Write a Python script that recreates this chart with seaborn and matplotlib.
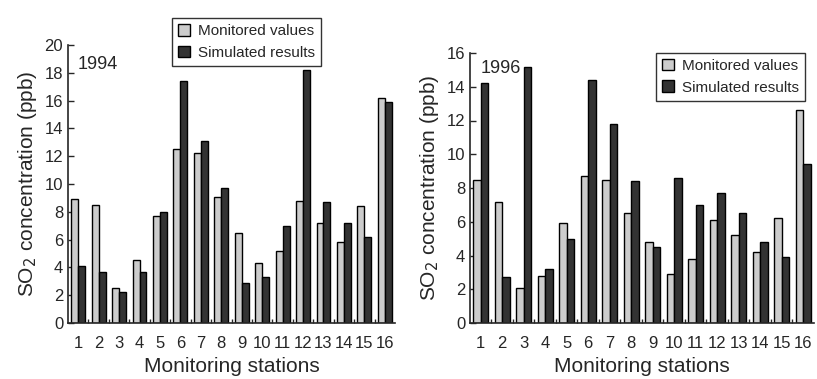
import numpy as np
import pandas as pd
import seaborn as sns
from matplotlib import pyplot as plt
from matplotlib.ticker import FixedLocator

stations = [str(i) for i in range(1, 17)]
monitored_1994 = [8.9, 8.5, 2.5, 4.5, 7.7, 12.5, 12.2, 9.1, 6.5, 4.3, 5.2, 8.8, 7.2, 5.8, 8.4, 16.2]
simulated_1994 = [4.1, 3.7, 2.2, 3.7, 8.0, 17.4, 13.1, 9.7, 2.9, 3.3, 7.0, 18.2, 8.7, 7.2, 6.2, 15.9]
monitored_1996 = [8.5, 7.2, 2.1, 2.8, 5.9, 8.7, 8.5, 6.5, 4.8, 2.9, 3.8, 6.1, 5.2, 4.2, 6.2, 12.6]
simulated_1996 = [14.2, 2.7, 15.2, 3.2, 5.0, 14.4, 11.8, 8.4, 4.5, 8.6, 7.0, 7.7, 6.5, 4.8, 3.9, 9.4]
series_names = ["Monitored values", "Simulated results"]
colors = {"Monitored values": "#cccccc", "Simulated results": "#333333"}

sns.set_style("ticks")
plt.rcParams["font.family"] = ["Liberation Sans", "DejaVu Sans"]


def to_frame(monitored, simulated):
    return pd.DataFrame({
        "station": stations * 2,
        "value": monitored + simulated,
        "series": [series_names[0]] * 16 + [series_names[1]] * 16,
    })


fig = plt.figure(figsize=(8.17, 3.79), dpi=100)
ax1 = fig.add_axes([68 / 817, 1 - 323 / 379, 327 / 817, 278 / 379])
ax2 = fig.add_axes([470 / 817, 1 - 323 / 379, 344 / 817, 270 / 379])

panels = [
    (ax1, to_frame(monitored_1994, simulated_1994), "1994", 20, 0.96),
    (ax2, to_frame(monitored_1996, simulated_1996), "1996", 16, 0.975),
]
for ax, df, year, ymax, ty in panels:
    sns.barplot(
        data=df, x="station", y="value", hue="series", palette=colors,
        edgecolor="black", linewidth=1, width=0.68, gap=0, ax=ax,
    )
    ax.set_ylim(0, ymax)
    ax.set_xlim(-0.5, 15.5)
    ax.set_yticks(range(0, ymax + 1, 2))
    ax.tick_params(axis="y", direction="in", length=4, labelsize=12, width=1)
    ax.tick_params(axis="x", which="major", length=0, labelsize=12, pad=9)
    ax.xaxis.set_minor_locator(FixedLocator(np.arange(0.5, 15.5, 1)))
    ax.tick_params(axis="x", which="minor", direction="in", length=3, width=1)
    sns.despine(ax=ax)
    for s in ["left", "bottom"]:
        ax.spines[s].set_linewidth(1.2)
    ax.set_xlabel("Monitoring stations", fontsize=15, labelpad=5)
    ax.set_ylabel("SO$_2$ concentration (ppb)", fontsize=15, labelpad=4)
    ax.text(0.03, ty, year, transform=ax.transAxes, fontsize=13, va="top", ha="left")

leg1 = ax1.legend(loc="upper left", bbox_to_anchor=(0.295, 1.125), frameon=True,
                  fontsize=11, handlelength=0.8, handleheight=0.8, fancybox=False,
                  borderpad=0.4, labelspacing=0.5, handletextpad=0.5)
leg2 = ax2.legend(loc="upper right", bbox_to_anchor=(0.995, 1.03), frameon=True,
                  fontsize=11, handlelength=0.8, handleheight=0.8, fancybox=False,
                  borderpad=0.4, labelspacing=0.5, handletextpad=0.5)
for leg in (leg1, leg2):
    leg.get_frame().set_edgecolor("black")
    leg.get_frame().set_linewidth(1)
    for h in leg.legend_handles:
        h.set_edgecolor("black")

fig.savefig("out.png", dpi=100)
